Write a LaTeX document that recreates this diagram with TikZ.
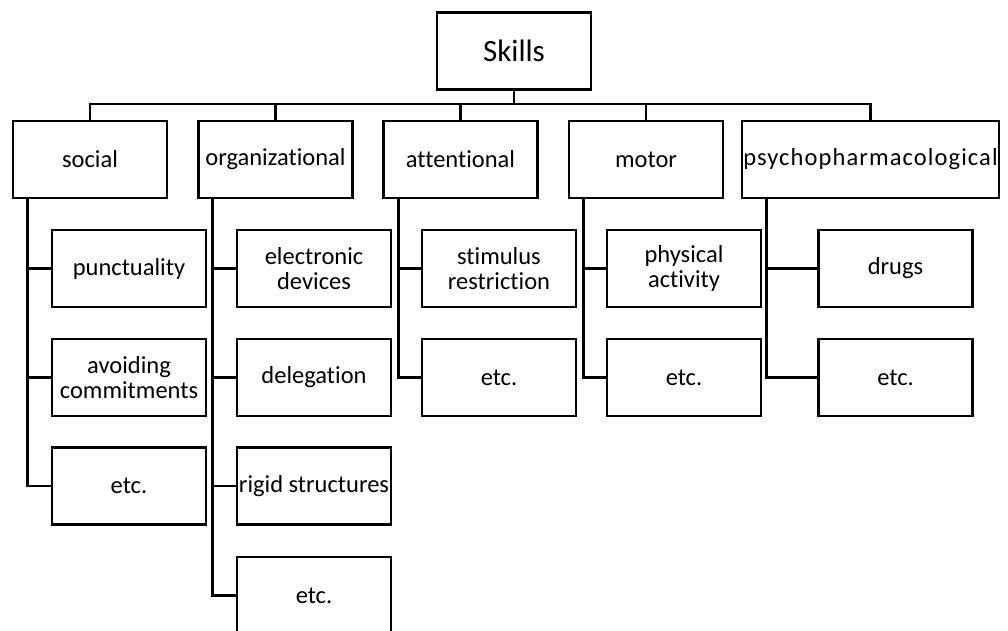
\documentclass[tikz,border=0pt]{standalone}
\usepackage{fontspec}
\setmainfont{Carlito}[Ligatures=NoCommon]

\tikzset{
  box/.style={draw, line width=2.6pt, inner sep=1pt, minimum width=154pt, minimum height=77pt,
    align=center, font=\fontsize{24.5pt}{25.5pt}\selectfont},
  link/.style={line width=2.6pt}
}

\begin{document}
\begin{tikzpicture}[x=1pt, y=-1pt]
    \useasboundingbox (0,0) rectangle (1008,631);

    % Root and bus line
    \node[box, font=\fontsize{31pt}{33pt}\selectfont] (skills) at (514,51) {Skills};
    \coordinate (bus) at (514,104);
    \draw[link] (skills) -- (bus);

    % Categories
    \node[box] (social) at (90,159.5) {social};
    \node[box] (org) at (275.5,159.5) {organizational};
    \node[box] (att) at (460.5,159.5) {attentional};
    \node[box] (motor) at (646,159.5) {motor};
    \node[box, minimum width=257pt, font=\fontsize{24.5pt}{25.5pt}\selectfont\addfontfeatures{LetterSpace=4.5}]
        (psy) at (870.5,159.5) {psychopharmacological};

    \foreach \c in {social, org, att, motor, psy}
        \draw[link] (bus) -| (\c.north);

    % Social
    \node[box] (punct) at (129,268.5) {punctuality};
    \node[box] (avoid) at (129,377.5) {avoiding\\commitments};
    \node[box] (socEtc) at (129,486) {etc.};

    % Organizational
    \node[box] (devices) at (314,268.5) {electronic\\devices};
    \node[box] (deleg) at (314,377.5) {delegation};
    \node[box] (rigid) at (314,486) {rigid structures};
    \node[box] (orgEtc) at (314,595.5) {etc.};

    % Attentional
    \node[box] (stim) at (499,268.5) {stimulus\\restriction};
    \node[box] (attEtc) at (499,377.5) {etc.};

    % Motor
    \node[box] (phys) at (684,268.5) {physical\\activity};
    \node[box] (motEtc) at (684,377.5) {etc.};

    % Psychopharmacological
    \node[box] (drugs) at (895.5,268.5) {drugs};
    \node[box] (psyEtc) at (895.5,377.5) {etc.};

    % Side branches
    \foreach \c/\k in {social/punct, social/avoid, social/socEtc}
        \draw[link] ([xshift=16pt]\c.south west) |- (\k.west);
    \foreach \c/\k in {org/devices, org/deleg, org/rigid, org/orgEtc}
        \draw[link] ([xshift=15pt]\c.south west) |- (\k.west);
    \foreach \c/\k in {att/stim, att/attEtc, motor/phys, motor/motEtc}
        \draw[link] ([xshift=16pt]\c.south west) |- (\k.west);
    \foreach \k in {drugs, psyEtc}
        \draw[link] ([xshift=26pt]psy.south west) |- (\k.west);
\end{tikzpicture}
\end{document}
